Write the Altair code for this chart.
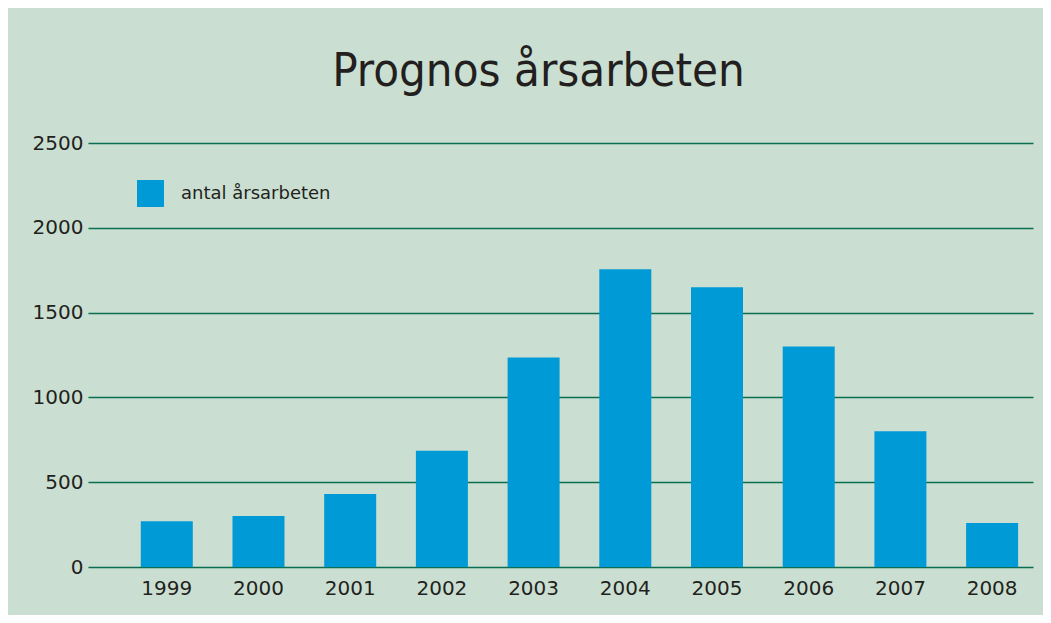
import altair as alt
import pandas as pd

years = ["1999", "2000", "2001", "2002", "2003", "2004", "2005", "2006", "2007", "2008"]
values = [270, 300, 430, 685, 1235, 1755, 1650, 1300, 800, 260]
series = "antal årsarbeten"
y_ticks = [0, 500, 1000, 1500, 2000, 2500]

df = pd.DataFrame({"year": years, "value": values, "series": [series] * len(years)})

BG = "#cadfd1"
BAR = "#009ad6"
GRID = "#0b6e52"
TXT = "#231f20"
FONT = "DejaVu Sans"
TFONT = "DejaVu Sans Condensed, Liberation Sans Narrow, Roboto Condensed, sans-serif"

chart = (
    alt.Chart(df)
    .mark_bar()
    .encode(
        x=alt.X(
            "year:N",
            sort=years,
            title=None,
            scale=alt.Scale(paddingInner=0.433, paddingOuter=0.369, align=0.78),
            axis=alt.Axis(
                labelAngle=0, ticks=False, domain=False, grid=False,
                labelFontSize=20, labelPadding=11, labelColor=TXT, labelFont=FONT,
            ),
        ),
        y=alt.Y(
            "value:Q",
            title=None,
            scale=alt.Scale(domain=[0, 2500], nice=False),
            axis=alt.Axis(
                values=y_ticks, format="d", ticks=False, domain=False, grid=True,
                gridColor=GRID, gridWidth=1.5, gridOpacity=1,
                labelFontSize=20, labelPadding=5, labelColor=TXT, labelFont=FONT,
            ),
        ),
        color=alt.Color(
            "series:N",
            scale=alt.Scale(domain=[series], range=[BAR]),
            legend=alt.Legend(
                title=None, orient="none", legendX=49, legendY=37,
                symbolType="square", symbolSize=729, symbolStrokeWidth=0,
                symbolOpacity=1, labelFontSize=18, labelColor=TXT, labelFont=FONT,
                labelOffset=17, padding=0,
            ),
        ),
    )
    .properties(
        width=945,
        height=424,
        background=BG,
        padding={"left": 80, "top": 135, "right": 10, "bottom": 48},
        autosize=alt.AutoSizeParams(type="none"),
        title=alt.TitleParams(
            "Prognos årsarbeten", font=TFONT, fontSize=47, fontWeight="normal",
            color=TXT, anchor="middle", dx=-22, offset=37,
        ),
    )
    .configure_view(stroke=None)
)

chart.save("out.html", embed_options={"renderer": "svg", "actions": False})
